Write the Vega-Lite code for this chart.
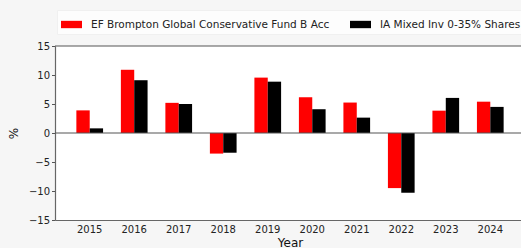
{
  "$schema": "https://vega.github.io/schema/vega-lite/v6.json",
  "width": 466,
  "height": 174,
  "autosize": {"type": "none"},
  "padding": {"left": 55, "top": 46, "right": 0, "bottom": 28},
  "background": "#f6f6f6",
  "config": {
    "view": {"fill": "white", "stroke": null},
    "font": "DejaVu Sans",
    "axis": {"labelFont": "DejaVu Sans", "titleFont": "DejaVu Sans", "labelColor": "#222", "titleColor": "#111", "titleFontWeight": "normal", "labelFontSize": 10, "titleFontSize": 12, "domainColor": "#666", "tickColor": "#555", "grid": false}
  },
  "datasets": {
    "returns": [
      {"year": "2015", "series": "EF Brompton Global Conservative Fund B Acc", "value": 3.9},
      {"year": "2015", "series": "IA Mixed Inv 0-35% Shares", "value": 0.8},
      {"year": "2016", "series": "EF Brompton Global Conservative Fund B Acc", "value": 10.9},
      {"year": "2016", "series": "IA Mixed Inv 0-35% Shares", "value": 9.1},
      {"year": "2017", "series": "EF Brompton Global Conservative Fund B Acc", "value": 5.2},
      {"year": "2017", "series": "IA Mixed Inv 0-35% Shares", "value": 5.0},
      {"year": "2018", "series": "EF Brompton Global Conservative Fund B Acc", "value": -3.55},
      {"year": "2018", "series": "IA Mixed Inv 0-35% Shares", "value": -3.4},
      {"year": "2019", "series": "EF Brompton Global Conservative Fund B Acc", "value": 9.55},
      {"year": "2019", "series": "IA Mixed Inv 0-35% Shares", "value": 8.85},
      {"year": "2020", "series": "EF Brompton Global Conservative Fund B Acc", "value": 6.15},
      {"year": "2020", "series": "IA Mixed Inv 0-35% Shares", "value": 4.1},
      {"year": "2021", "series": "EF Brompton Global Conservative Fund B Acc", "value": 5.25},
      {"year": "2021", "series": "IA Mixed Inv 0-35% Shares", "value": 2.65},
      {"year": "2022", "series": "EF Brompton Global Conservative Fund B Acc", "value": -9.5},
      {"year": "2022", "series": "IA Mixed Inv 0-35% Shares", "value": -10.3},
      {"year": "2023", "series": "EF Brompton Global Conservative Fund B Acc", "value": 3.85},
      {"year": "2023", "series": "IA Mixed Inv 0-35% Shares", "value": 6.05},
      {"year": "2024", "series": "EF Brompton Global Conservative Fund B Acc", "value": 5.4},
      {"year": "2024", "series": "IA Mixed Inv 0-35% Shares", "value": 4.5}
    ],
    "refs": [{"value": 0}, {"value": 15}]
  },
  "encoding": {
    "y": {
      "field": "value", "type": "quantitative",
      "scale": {"domain": [-15, 15], "nice": false, "zero": false},
      "axis": {"title": "%", "values": [-15, -10, -5, 0, 5, 10, 15], "labelOverlap": false, "tickSize": 3.5, "labelPadding": 2, "titlePadding": 8, "domainWidth": 1.2}
    }
  },
  "layer": [
    {
      "data": {"name": "returns"},
      "mark": {"type": "bar"},
      "encoding": {
        "x": {
          "field": "year", "type": "ordinal",
          "scale": {"range": [0, 470], "paddingInner": 0.4, "paddingOuter": 0.48},
          "axis": {"title": "Year", "labelAngle": 0, "ticks": false, "labelPadding": 4, "bandPosition": 0.75, "titlePadding": 3, "domainWidth": 1.2}
        },
        "xOffset": {"field": "series", "type": "nominal", "sort": ["EF Brompton Global Conservative Fund B Acc", "IA Mixed Inv 0-35% Shares"]},
        "color": {
          "field": "series", "type": "nominal",
          "scale": {"domain": ["EF Brompton Global Conservative Fund B Acc", "IA Mixed Inv 0-35% Shares"], "range": ["#ff0000", "#000000"]},
          "legend": {
            "title": null, "orient": "none", "direction": "horizontal",
            "legendX": 2, "legendY": -36,
            "symbolType": "M-1,-0.35L1,-0.35L1,0.35L-1,0.35Z",
            "symbolSize": 441, "symbolStrokeWidth": 0, "symbolOpacity": 1,
            "labelFont": "DejaVu Sans", "labelFontSize": 10.5, "labelColor": "#222", "labelLimit": 0,
            "labelOffset": 9, "columnPadding": 20, "padding": 4,
            "fillColor": "#fdfdfd", "strokeColor": "#f0f0f0"
          }
        }
      }
    },
    {
      "data": {"name": "refs"},
      "mark": {"type": "rule", "color": "#555", "strokeWidth": 1.2, "clip": false},
      "encoding": {}
    }
  ]
}
